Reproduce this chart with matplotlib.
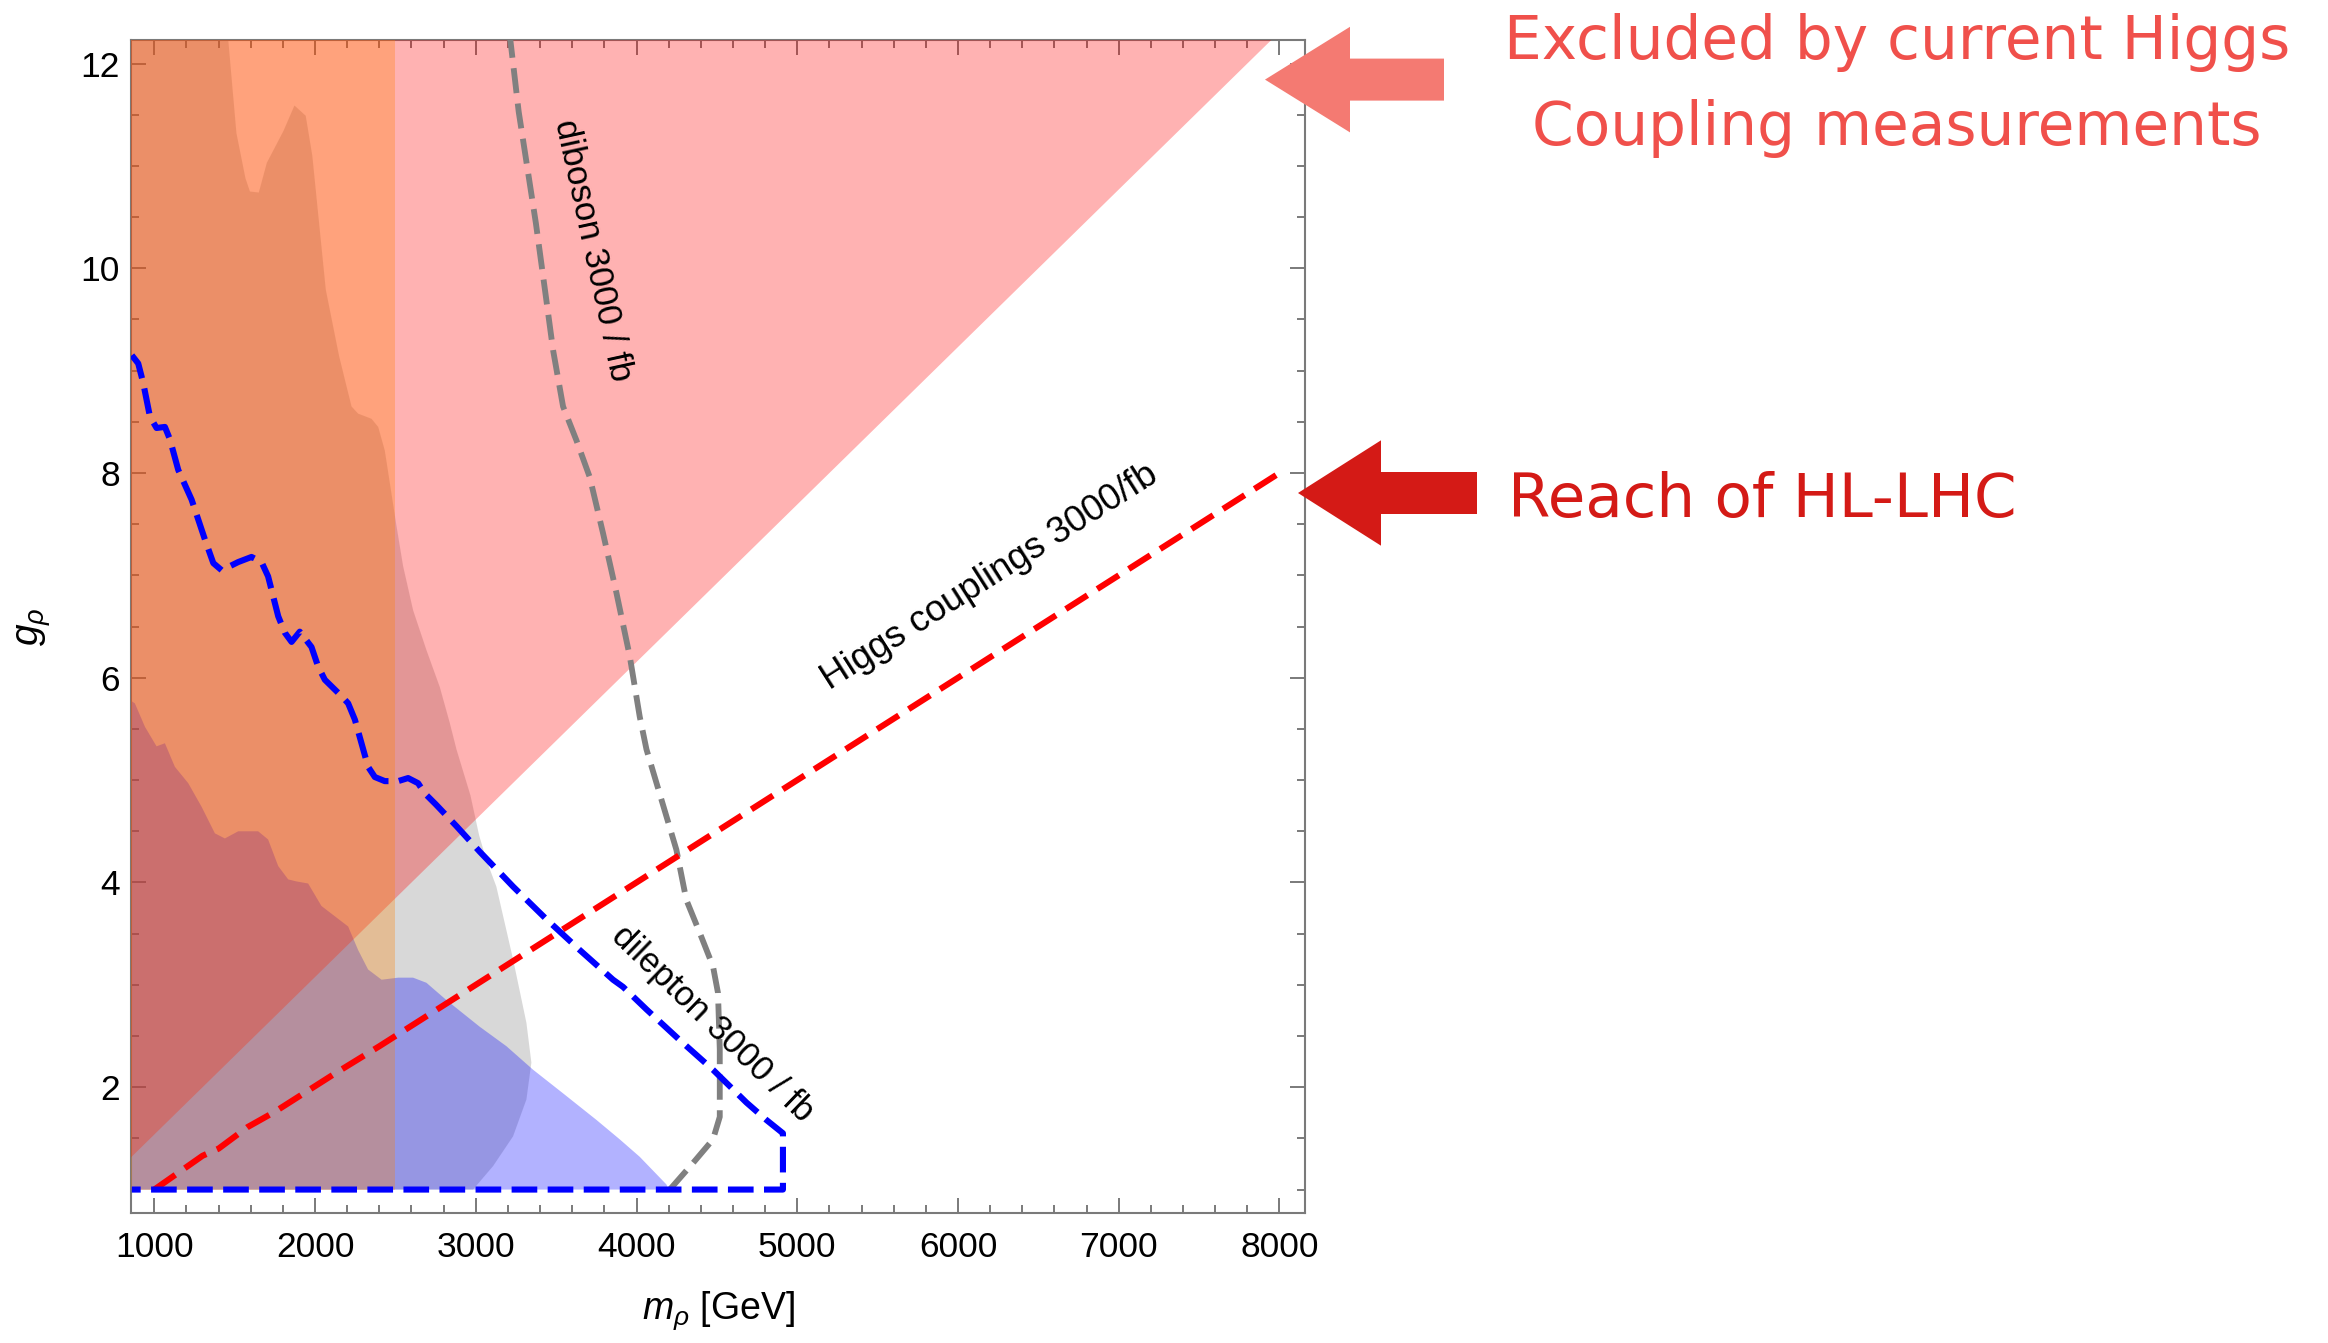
import numpy as np
import matplotlib
matplotlib.use('Agg')
import matplotlib.pyplot as plt
from matplotlib.patches import Polygon

# ---------------- data (m_rho in GeV, g_rho) ----------------
x_ticks = [1000, 2000, 3000, 4000, 5000, 6000, 7000, 8000]
y_ticks = [2, 4, 6, 8, 10, 12]

# current Higgs coupling exclusion: region above this line
higgs_now_m = [800, 8125]
higgs_now_g = [1.23, 12.5]

# current direct bound (vertical band)
band_m = [800, 2500]
band_g = [1.0, 12.5]

# current diboson exclusion (gray), right edge of the region
diboson_now_m = [1445, 1511, 1567, 1595, 1650, 1700, 1803, 1872, 1900, 1942, 1983,
                 2067, 2150, 2227, 2268, 2351, 2393, 2434, 2507, 2548, 2610, 2693,
                 2776, 2838, 2880, 2967, 3021, 3066, 3128, 3232, 3315, 3346, 3315,
                 3232, 3108, 2983]
diboson_now_g = [12.5, 11.32, 10.88, 10.75, 10.74, 11.03, 11.34, 11.59, 11.55, 11.49,
                 11.10, 9.79, 9.14, 8.65, 8.58, 8.53, 8.45, 8.22, 7.48, 7.09, 6.66,
                 6.27, 5.91, 5.56, 5.30, 4.85, 4.46, 4.22, 3.96, 3.25, 2.63, 2.24,
                 1.88, 1.52, 1.23, 1.0]

# current dilepton exclusion (blue), upper edge of the region
dilepton_now_m = [800, 850, 879, 942, 1014, 1066, 1128, 1211, 1294, 1377, 1439, 1522,
                  1646, 1708, 1771, 1833, 1885, 1957, 2040, 2123, 2206, 2268, 2330,
                  2414, 2517, 2610, 2693, 2818, 3025, 3191, 3357, 3543, 3751, 3896,
                  4020, 4186, 4200]
dilepton_now_g = [5.8, 5.78, 5.75, 5.52, 5.33, 5.36, 5.13, 4.97, 4.74, 4.48, 4.43, 4.50,
                  4.50, 4.42, 4.16, 4.03, 4.01, 3.99, 3.77, 3.67, 3.57, 3.34, 3.15,
                  3.05, 3.07, 3.07, 3.02, 2.85, 2.59, 2.40, 2.17, 1.94, 1.68, 1.49,
                  1.32, 1.05, 1.0]

# HL-LHC projections
dilepton_hl_m = [860, 900, 931, 973, 1014, 1066, 1097, 1149, 1232, 1315, 1367, 1419,
                 1522, 1605, 1667, 1708, 1771, 1812, 1854, 1905, 1978, 2019, 2061,
                 2165, 2206, 2248, 2289, 2330, 2372, 2434, 2517, 2579, 2641, 2683,
                 2753, 2880, 3025, 3232, 3440, 3647, 3854, 3916, 4062, 4269, 4476,
                 4684, 4808, 4911, 4911, 860]
dilepton_hl_g = [9.15, 9.07, 8.88, 8.55, 8.44, 8.45, 8.33, 8.03, 7.74, 7.35, 7.12, 7.05,
                 7.13, 7.18, 7.13, 6.99, 6.60, 6.44, 6.35, 6.45, 6.30, 6.11, 5.98,
                 5.82, 5.75, 5.59, 5.36, 5.13, 5.03, 4.99, 4.99, 5.02, 4.97, 4.87,
                 4.76, 4.55, 4.30, 3.96, 3.64, 3.34, 3.05, 2.98, 2.76, 2.46, 2.17,
                 1.85, 1.68, 1.55, 1.0, 1.0]

diboson_hl_m = [3210, 3267, 3374, 3439, 3481, 3543, 3626, 3709, 3792, 3875, 3958, 4020,
                4062, 4248, 4310, 4393, 4476, 4507, 4518, 4518, 4476, 4352, 4207]
diboson_hl_g = [12.3, 11.53, 10.44, 9.69, 9.20, 8.65, 8.32, 7.96, 7.41, 6.83, 6.21, 5.62,
                5.30, 4.32, 3.83, 3.51, 3.18, 2.92, 2.37, 1.71, 1.49, 1.26, 1.0]

higgs_hl_m = [1000, 1300, 1400, 1580, 1750, 2110, 2400, 8000]
higgs_hl_g = [1.0, 1.33, 1.40, 1.61, 1.76, 2.12, 2.40, 8.0]

# ---------------- style ----------------
plt.rcParams['font.family'] = ['Liberation Sans', 'DejaVu Sans']
plt.rcParams['mathtext.fontset'] = 'custom'
plt.rcParams['mathtext.rm'] = 'Liberation Sans'
plt.rcParams['mathtext.it'] = 'Liberation Sans:italic'

W, H = 2328, 1343
fig = plt.figure(figsize=(W / 100, H / 100), dpi=100)
ax = fig.add_axes([131 / W, (H - 1213) / H, (1305 - 131) / W, (1213 - 40) / H])

# shaded regions (all 30% opacity, stacked)
ax.fill(list(diboson_now_m) + [800, 800],
        list(diboson_now_g) + [1.0, 12.5],
        color='#808080', alpha=0.3, lw=0, zorder=1)
ax.fill(list(dilepton_now_m) + [800],
        list(dilepton_now_g) + [1.0],
        color='#0000ff', alpha=0.3, lw=0, zorder=2)
ax.fill([higgs_now_m[0], higgs_now_m[1], higgs_now_m[0]],
        [higgs_now_g[0], higgs_now_g[1], higgs_now_g[1]],
        color='#ff0000', alpha=0.3, lw=0, zorder=3)
ax.fill([band_m[0], band_m[1], band_m[1], band_m[0]],
        [band_g[0], band_g[0], band_g[1], band_g[1]],
        color='#ff8000', alpha=0.3, lw=0, zorder=4)

# dashed projections
ax.plot(diboson_hl_m, diboson_hl_g, color='#808080', lw=4.2,
        dashes=(4.3, 1.8), dash_capstyle='butt', zorder=5)
ax.plot(higgs_hl_m, higgs_hl_g, color='#ff0000', lw=4.4,
        dashes=(4.2, 1.9), dash_capstyle='butt', zorder=6)
ax.plot(dilepton_hl_m, dilepton_hl_g, color='#0000ff', lw=4.4,
        dashes=(4.2, 1.7), dash_capstyle='butt', zorder=7)

# curve labels
ax.text(3730, 10.17, 'diboson 3000 / fb', rotation=-77.7, ha='center', va='center',
        fontsize=25, zorder=8)
ax.text(6200, 6.98, 'Higgs couplings 3000/fb', rotation=32.5, ha='center', va='center',
        fontsize=26.5, zorder=8)
ax.text(4475, 2.62, 'dilepton 3000 / fb', rotation=-44, ha='center', va='center',
        fontsize=25, zorder=8)

ax.set_xlim(855, 8159)
ax.set_ylim(0.771, 12.23)
ax.set_xticks(x_ticks)
ax.set_yticks(y_ticks)
ax.set_xticks(np.arange(1000, 8101, 200), minor=True)
ax.set_yticks(np.arange(1.0, 12.01, 0.5), minor=True)
ax.tick_params(which='both', direction='in', top=True, right=True,
               color='#7a7a7a', width=1.4, labelsize=25.5)
ax.tick_params(which='major', length=10.5)
ax.tick_params(which='minor', length=6)
ax.tick_params(axis='x', pad=13)
ax.tick_params(axis='y', pad=8)
for s in ax.spines.values():
    s.set_color('#7a7a7a')
    s.set_linewidth(1.5)

ax.set_xlabel(r'$m_\rho$ [GeV]', fontsize=27, labelpad=18)
ax.set_ylabel(r'$g_\rho$', fontsize=28, labelpad=20)


# ---------------- annotations on the right ----------------
def px(points):
    return [(x / W, 1 - y / H) for x, y in points]


def left_arrow(tip_x, tip_y, head_x, head_half, tail_x, shaft_half, color):
    pts = [(tip_x, tip_y), (head_x, tip_y - head_half), (head_x, tip_y - shaft_half),
           (tail_x, tip_y - shaft_half), (tail_x, tip_y + shaft_half),
           (head_x, tip_y + shaft_half), (head_x, tip_y + head_half)]
    fig.add_artist(Polygon(px(pts), closed=True, transform=fig.transFigure,
                           facecolor=color, edgecolor='none', zorder=10))


left_arrow(1265, 79.6, 1350, 52.8, 1444, 21, '#f47a72')
left_arrow(1298, 493, 1381, 52.7, 1477, 21, '#d41a16')

fig.text(1897 / W, 1 - 59 / H, 'Excluded by current Higgs', ha='center', va='baseline',
         fontsize=43, color='#f0504b', family='DejaVu Sans')
fig.text(1897 / W, 1 - 145 / H, 'Coupling measurements', ha='center', va='baseline',
         fontsize=43, color='#f0504b', family='DejaVu Sans')
fig.text(1508 / W, 1 - 517 / H, 'Reach of HL-LHC', ha='left', va='baseline',
         fontsize=44, color='#d41a16', family='DejaVu Sans')

fig.savefig('out.png', dpi=100)
